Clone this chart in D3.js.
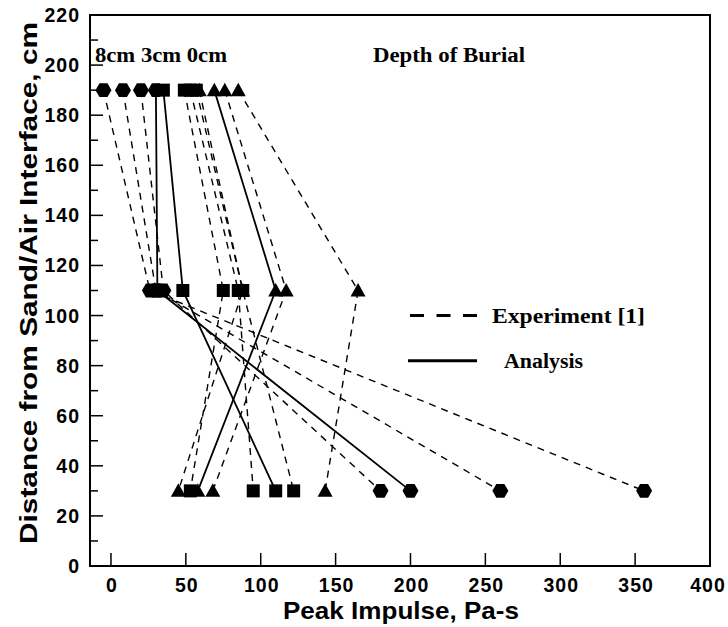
<!DOCTYPE html>
<html lang="en">
<head>
    <meta charset="UTF-8">
    <title>Peak Impulse vs Distance</title>
    <script src="https://d3js.org/d3.v7.min.js"></script>
    <style>
        body { margin: 0; background: #fff; }
        .tick-label { font: bold 19.5px "Liberation Sans", Arial, sans-serif; letter-spacing: 1px; }
        .axis-title { font: bold 24px "Liberation Sans", Arial, sans-serif; }
        .note { font: bold 20px "Liberation Serif", "Times New Roman", serif; }
    </style>
</head>
<body>
    <svg width="728" height="627"></svg>
    <script>
        // distances of the three gauge rows
        const distance = [190, 110, 30];

        // experiment [1] series, peak impulse at each row (Pa-s)
        const exp8cm = [[-5, 26, 356], [8, 30, 260], [20, 35, 180]];
        const exp3cm = [[49, 75, 53], [53, 85, 95], [57, 88, 122]];
        const exp0cm = [[59, 88, 45], [76, 117, 68], [85, 165, 143]];

        // analysis series
        const ana8cm = [30, 31, 200];
        const ana3cm = [35, 48, 110];
        const ana0cm = [69, 110, 58];

        const xTicks = [0, 50, 100, 150, 200, 250, 300, 350, 400];
        const yTicks = [0, 20, 40, 60, 80, 100, 120, 140, 160, 180, 200, 220];

        const svg = d3.select("svg");
        const x = d3.scaleLinear().domain([-14, 400]).range([90, 710]);
        const y = d3.scaleLinear().domain([0, 220]).range([566, 15]);

        // frame
        svg.append("rect")
            .attr("x", 90).attr("y", 15)
            .attr("width", 620).attr("height", 551)
            .attr("fill", "none").attr("stroke", "#000").attr("stroke-width", 2);

        // y ticks (inside), major every 20, minor every 10
        d3.range(0, 221, 10).forEach(v => {
            const len = v % 20 === 0 ? 13 : 8;
            svg.append("line")
                .attr("x1", 90).attr("x2", 90 + len)
                .attr("y1", y(v)).attr("y2", y(v))
                .attr("stroke", "#000").attr("stroke-width", 1.5);
        });
        svg.selectAll(".ylab").data(yTicks).enter().append("text")
            .attr("class", "tick-label")
            .attr("x", 80).attr("y", d => y(d) + 7)
            .attr("text-anchor", "end")
            .text(d => d);

        // x ticks (inside)
        xTicks.forEach(v => {
            svg.append("line")
                .attr("x1", x(v)).attr("x2", x(v))
                .attr("y1", 566).attr("y2", 553)
                .attr("stroke", "#000").attr("stroke-width", 1.5);
        });
        svg.selectAll(".xlab").data(xTicks).enter().append("text")
            .attr("class", "tick-label")
            .attr("x", d => Math.min(x(d) + 1, 708)).attr("y", 592)
            .attr("text-anchor", "middle")
            .text(d => d);

        // axis titles
        svg.append("text")
            .attr("class", "axis-title")
            .attr("x", 401).attr("y", 619)
            .attr("text-anchor", "middle")
            .attr("textLength", 236).attr("lengthAdjust", "spacingAndGlyphs")
            .text("Peak Impulse, Pa-s");
        svg.append("text")
            .attr("class", "axis-title")
            .attr("transform", "translate(37,283) rotate(-90)")
            .attr("text-anchor", "middle")
            .attr("textLength", 522).attr("lengthAdjust", "spacingAndGlyphs")
            .text("Distance from Sand/Air Interface, cm");

        const line = d3.line()
            .x(d => x(d[0]))
            .y(d => y(d[1]));
        const toPts = vals => vals.map((v, i) => [v, distance[i]]);

        const groups = [
            { exp: exp8cm, ana: ana8cm, shape: "hex" },
            { exp: exp3cm, ana: ana3cm, shape: "square" },
            { exp: exp0cm, ana: ana0cm, shape: "tri" }
        ];

        // lines
        groups.forEach(g => {
            g.exp.forEach(vals => {
                svg.append("path")
                    .attr("d", line(toPts(vals)))
                    .attr("fill", "none").attr("stroke", "#000")
                    .attr("stroke-width", 1.4)
                    .attr("stroke-dasharray", "7,6");
            });
            svg.append("path")
                .attr("d", line(toPts(g.ana)))
                .attr("fill", "none").attr("stroke", "#000")
                .attr("stroke-width", 1.8);
        });

        // markers
        const hexPath = d3.line()(d3.range(6).map(k => {
            const a = Math.PI / 3 * k;
            return [8 * Math.cos(a), 8 * Math.sin(a)];
        })) + "Z";
        const markerPath = {
            hex: hexPath,
            square: "M-6.5,-6.5L6.5,-6.5L6.5,6.5L-6.5,6.5Z",
            tri: "M0,-7.5L7.5,6L-7.5,6Z"
        };
        groups.forEach(g => {
            const pts = g.exp.map(toPts).flat().concat(toPts(g.ana));
            svg.append("g").selectAll("path").data(pts).enter().append("path")
                .attr("d", markerPath[g.shape])
                .attr("transform", d => `translate(${x(d[0])},${y(d[1])})`)
                .attr("fill", "#000");
        });

        // annotations
        svg.append("text").attr("class", "note")
            .attr("x", 95).attr("y", 62)
            .attr("textLength", 132).attr("lengthAdjust", "spacingAndGlyphs")
            .text("8cm 3cm 0cm");
        svg.append("text").attr("class", "note")
            .attr("x", 373).attr("y", 62)
            .attr("textLength", 152).attr("lengthAdjust", "spacingAndGlyphs")
            .text("Depth of Burial");

        // legend
        svg.append("line")
            .attr("x1", 410).attr("x2", 477)
            .attr("y1", y(100)).attr("y2", y(100))
            .attr("stroke", "#000").attr("stroke-width", 3)
            .attr("stroke-dasharray", "14,12.5");
        svg.append("text").attr("class", "note")
            .attr("x", 492).attr("y", y(100) + 7)
            .attr("textLength", 153).attr("lengthAdjust", "spacingAndGlyphs")
            .text("Experiment [1]");
        svg.append("line")
            .attr("x1", 408).attr("x2", 477)
            .attr("y1", y(82)).attr("y2", y(82))
            .attr("stroke", "#000").attr("stroke-width", 3);
        svg.append("text").attr("class", "note")
            .attr("x", 504).attr("y", y(82) + 7)
            .attr("textLength", 79).attr("lengthAdjust", "spacingAndGlyphs")
            .text("Analysis");
    </script>
</body>
</html>
